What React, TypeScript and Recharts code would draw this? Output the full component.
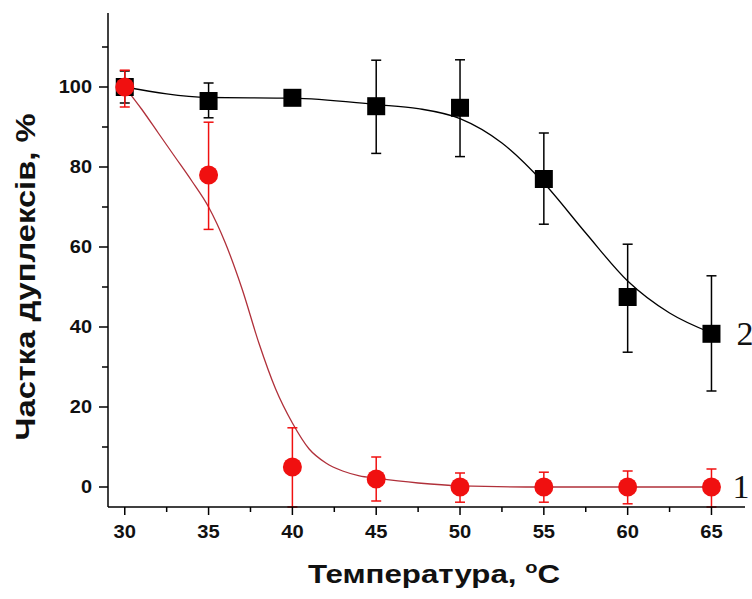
import { ComposedChart, XAxis, YAxis, Line, Scatter, ErrorBar, Label } from 'recharts'

// measured points (x = temperature, °C)
const temps = [30, 35, 40, 45, 50, 55, 60, 65]

// curve 2 (black squares)
const duplex2 = [100, 96.5, 97.3, 95.2, 94.8, 77, 47.5, 38.3]
const err2Low = [4, 4.2, 0, 11.8, 12.2, 11.3, 13.8, 14.3]
const err2High = [4, 4.5, 0, 11.5, 12, 11.5, 13.2, 14.5]

// curve 1 (red circles)
const duplex1 = [100, 78, 5, 2, 0, 0, 0, 0]
const err1Low = [5, 13.6, 10, 5.5, 3.8, 3.8, 4.2, 5]
const err1High = [4.2, 13.2, 9.8, 5.5, 3.5, 3.7, 4, 4.5]

// fitted curves
const fit2X = [30, 35, 40, 45, 47.5, 50, 52.5, 55, 57.5, 60, 62.5, 65]
const fit2Y = [100, 97.4, 97.2, 95.6, 94.6, 92.1, 86, 76, 63.5, 51.5, 43.5, 38.5]
const fit1X = [30, 31, 32, 33, 34, 35, 36, 37, 38, 39, 40, 41, 42, 43, 44, 45, 47.5, 50, 55, 60, 65]
const fit1Y = [100, 94.5, 88.5, 82.5, 76.5, 70, 61, 49.5, 36, 24.5, 16, 9.5, 6, 4, 2.8, 2.2, 1, 0.3, 0, 0, 0]

// curve labels, placed next to the last point of each series
const curveNames = ['1', '2']
const lastX = 65
const lastY = [duplex1[7], duplex2[7]]

const xTicks = [30, 32.5, 35, 37.5, 40, 42.5, 45, 47.5, 50, 52.5, 55, 57.5, 60, 62.5, 65]
const yTicks = [0, 10, 20, 30, 40, 50, 60, 70, 80, 90, 100, 110]
const xDomain = [29, 67]
const yDomain = [-5, 118.5]

const RED = '#f01010'
const RED_LINE = '#b0303a'
const FONT = '"Liberation Sans", Arial, sans-serif'

const W = 752
const H = 599
const M = { top: 13, right: 7, bottom: 32, left: 0 }
const Y_AXIS_W = 108
const X_AXIS_H = 60
const plotL = M.left + Y_AXIS_W
const plotR = W - M.right
const plotT = M.top
const plotB = H - M.bottom - X_AXIS_H
const sx = (v: number) => plotL + ((v - xDomain[0]) / (xDomain[1] - xDomain[0])) * (plotR - plotL)
const sy = (v: number) => plotB - ((v - yDomain[0]) / (yDomain[1] - yDomain[0])) * (plotB - plotT)

const points2 = temps.map((x, i) => ({ x, y: duplex2[i], err: [err2Low[i], err2High[i]] }))
const points1 = temps.map((x, i) => ({ x, y: duplex1[i], err: [err1Low[i], err1High[i]] }))
const fit2 = fit2X.map((x, i) => ({ x, y: fit2Y[i] }))
const fit1 = fit1X.map((x, i) => ({ x, y: fit1Y[i] }))

function XTick({ x, y, payload }: any) {
  const v = payload.value
  const major = v % 5 === 0
  const s = String(v)
  return (
    <g>
      <line x1={x} x2={x} y1={y} y2={y + (major ? 8 : 5)} stroke="#000" strokeWidth={1.5} />
      {major && (
        <text x={x} y={y + 31} textAnchor="middle" fontFamily={FONT} fontWeight="bold" fontSize={18}
          fill="#111" textLength={s.length * 11.2} lengthAdjust="spacingAndGlyphs">{s}</text>
      )}
    </g>
  )
}

function YTick({ x, y, payload }: any) {
  const v = payload.value
  const major = v % 20 === 0
  const s = String(v)
  return (
    <g>
      <line x1={x - (major ? 9 : 6)} x2={x} y1={y} y2={y} stroke="#000" strokeWidth={1.5} />
      {major && (
        <text x={x - 16} y={y + 6.3} textAnchor="end" fontFamily={FONT} fontWeight="bold" fontSize={18}
          fill="#111" textLength={s.length * 11.1} lengthAdjust="spacingAndGlyphs">{s}</text>
      )}
    </g>
  )
}

const Square = ({ cx, cy }: any) => <rect x={cx - 9} y={cy - 9} width={18} height={18} fill="#000" />
const Dot = ({ cx, cy }: any) => <circle cx={cx} cy={cy} r={9.5} fill={RED} />

function XTitle() {
  return (
    <text x={308} y={583} fontFamily={FONT} fontWeight="bold" fontSize={25} fill="#111"
      textLength={252} lengthAdjust="spacingAndGlyphs">
      Температура, <tspan fontSize={16} dy={-10}>o</tspan><tspan dy={10}>C</tspan>
    </text>
  )
}

function YTitle() {
  return (
    <text x={35} y={277} transform="rotate(-90 35 277)" textAnchor="middle" fontFamily={FONT}
      fontWeight="bold" fontSize={28} fill="#111" textLength={327} lengthAdjust="spacingAndGlyphs">
      Частка дуплексів, %
    </text>
  )
}

export default function App() {
  return (
    <div style={{ position: 'fixed', left: 0, top: 0, width: W, height: H, background: '#fff' }}>
      <ComposedChart width={W} height={H} margin={M}>
        <XAxis type="number" dataKey="x" domain={xDomain} ticks={xTicks}
          tick={<XTick />} tickLine={false} tickSize={0} tickMargin={0} height={X_AXIS_H} interval={0}
          axisLine={{ stroke: '#000', strokeWidth: 1.5 }}>
          <Label content={<XTitle />} />
        </XAxis>
        <YAxis type="number" dataKey="y" domain={yDomain} ticks={yTicks}
          tick={<YTick />} tickLine={false} tickSize={0} tickMargin={0} width={Y_AXIS_W} interval={0}
          axisLine={{ stroke: '#000', strokeWidth: 1.5 }}>
          <Label content={<YTitle />} />
        </YAxis>
        <Line data={fit2} dataKey="y" type="monotone" stroke="#000" strokeWidth={1.3} dot={false}
          activeDot={false} isAnimationActive={false} />
        <Line data={fit1} dataKey="y" type="monotone" stroke={RED_LINE} strokeWidth={1.3} dot={false}
          activeDot={false} isAnimationActive={false} />
        <Scatter data={points2} dataKey="y" shape={<Square />} isAnimationActive={false}>
          <ErrorBar dataKey="err" direction="y" width={5} stroke="#000" strokeWidth={1.5} />
        </Scatter>
        <Scatter data={points1} dataKey="y" shape={<Dot />} isAnimationActive={false}>
          <ErrorBar dataKey="err" direction="y" width={5} stroke={RED} strokeWidth={1.5} />
        </Scatter>
      </ComposedChart>
      {/* curve numbers next to the last points */}
      <svg width={W} height={H} style={{ position: 'absolute', left: 0, top: 0, pointerEvents: 'none' }}>
        {curveNames.map((name, i) => (
          <text key={name} x={sx(lastX) + (i === 0 ? 21 : 25)} y={sy(lastY[i]) + 11}
            fontFamily='"Liberation Serif", "Times New Roman", serif' fontSize={34} fill="#111">{name}</text>
        ))}
      </svg>
    </div>
  )
}
